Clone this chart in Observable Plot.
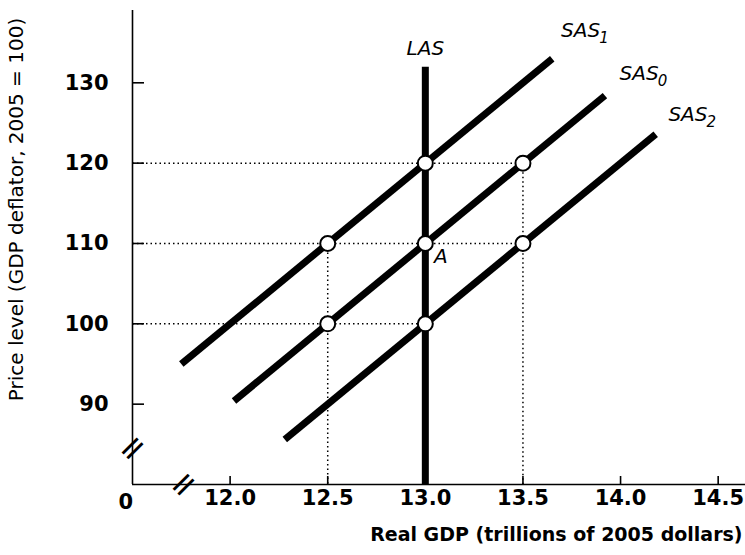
<!DOCTYPE html>
<html>
<head>
<meta charset="utf-8">
<script src="https://cdn.jsdelivr.net/npm/d3@7"></script>
<script src="https://cdn.jsdelivr.net/npm/@observablehq/plot@0.6"></script>
<style>
  html, body { margin: 0; padding: 0; background: #fff; }
  svg { display: block; }
</style>
</head>
<body>
<div id="chart"></div>
<script>
// ---- data ----
const xDomain = [11.5, 14.64];
const yDomain = [80, 139];
const xTicks = [12.0, 12.5, 13.0, 13.5, 14.0, 14.5];
const yTicks = [90, 100, 110, 120, 130];

const sas1 = [{x: 11.75, y: 95}, {x: 13.65, y: 133}];
const sas0 = [{x: 12.02, y: 90.4}, {x: 13.92, y: 128.4}];
const sas2 = [{x: 12.28, y: 85.6}, {x: 14.18, y: 123.6}];
const las = [{x: 13.0, y: 80}, {x: 13.0, y: 132}];

const points = [
  {x: 12.5, y: 110}, {x: 12.5, y: 100},
  {x: 13.0, y: 120}, {x: 13.0, y: 110}, {x: 13.0, y: 100},
  {x: 13.5, y: 120}, {x: 13.5, y: 110}
];

// dotted guide segments (from axis to equilibrium points)
const guides = [
  {x1: 11.5, y1: 120, x2: 13.5, y2: 120},
  {x1: 11.5, y1: 110, x2: 13.5, y2: 110},
  {x1: 11.5, y1: 100, x2: 13.0, y2: 100},
  {x1: 12.5, y1: 110, x2: 12.5, y2: 80},
  {x1: 13.5, y1: 120, x2: 13.5, y2: 80}
];

// curve labels: base text ends at x, subscript follows
const sasLabels = [
  {x: 13.88, y: 136.5, text: "SAS", sub: "1"},
  {x: 14.18, y: 131.2, text: "SAS", sub: "0"},
  {x: 14.43, y: 126.1, text: "SAS", sub: "2"}
];
const plainLabels = [
  {x: 13.0, y: 134.2, text: "LAS"},
  {x: 13.08, y: 108.4, text: "A"}
];

const breaks = [{x: 11.76, y: 80}, {x: 11.5, y: 84.5}];

const xTitle = "Real GDP (trillions of 2005 dollars)";
const yTitle = "Price level (GDP deflator, 2005 = 100)";

const font = "'DejaVu Sans', sans-serif";

const chart = Plot.plot({
  width: 745,
  height: 555,
  marginLeft: 132,
  marginRight: 0,
  marginTop: 10,
  marginBottom: 71,
  style: {background: "#fff", fontFamily: font, color: "#000", overflow: "visible"},
  x: {domain: xDomain},
  y: {domain: yDomain},
  marks: [
    // axis lines
    Plot.ruleX([xDomain[0]], {stroke: "#000", strokeWidth: 1.6}),
    Plot.ruleY([yDomain[0]], {stroke: "#000", strokeWidth: 1.6}),
    // inward tick marks
    Plot.axisY({ticks: yTicks, tickSize: 12, dx: 12, tickFormat: () => "", label: null, strokeWidth: 1.6}),
    Plot.axisX({ticks: xTicks, tickSize: 8, dy: -8, tickFormat: () => "", label: null, strokeWidth: 1.6}),
    // tick labels
    Plot.axisY({ticks: yTicks, tickSize: 0, tickPadding: 24, label: null, fontSize: 21, fontWeight: "bold", tickFormat: d => d3.format("d")(d)}),
    Plot.axisX({ticks: xTicks, tickSize: 0, tickPadding: 6, label: null, fontSize: 21, fontWeight: "bold", tickFormat: d => d3.format(".1f")(d)}),
    // origin label
    Plot.text(["0"], {frameAnchor: "bottom-left", dx: -14, dy: 24, fontSize: 21, fontWeight: "bold"}),
    // axis breaks
    Plot.text(breaks, {x: "x", y: "y", text: () => "=", rotate: -45, fontSize: 34, fontWeight: 400, fill: "#000"}),
    // dotted guides
    Plot.link(guides, {x1: "x1", y1: "y1", x2: "x2", y2: "y2", stroke: "#000", strokeWidth: 1.5, strokeDasharray: "1.5,3"}),
    // curves
    Plot.line(las, {x: "x", y: "y", stroke: "#000", strokeWidth: 7, strokeLinecap: "butt"}),
    Plot.line(sas1, {x: "x", y: "y", stroke: "#000", strokeWidth: 7, strokeLinecap: "butt"}),
    Plot.line(sas0, {x: "x", y: "y", stroke: "#000", strokeWidth: 7, strokeLinecap: "butt"}),
    Plot.line(sas2, {x: "x", y: "y", stroke: "#000", strokeWidth: 7, strokeLinecap: "butt"}),
    // equilibrium points
    Plot.dot(points, {x: "x", y: "y", r: 7.5, fill: "#fff", stroke: "#000", strokeWidth: 2}),
    // curve labels
    Plot.text(sasLabels, {x: "x", y: "y", text: "text", textAnchor: "end", dx: 3, fontSize: 20, fontStyle: "italic", fill: "#000", style: "letter-spacing:3px"}),
    Plot.text(sasLabels, {x: "x", y: "y", text: "sub", textAnchor: "start", dx: 2, dy: 8, fontSize: 15, fontStyle: "italic", fill: "#000"}),
    Plot.text(plainLabels, {x: "x", y: "y", text: "text", fontSize: 20, fontStyle: "italic", fill: "#000", style: "letter-spacing:1px"}),
    // axis titles
    Plot.text([xTitle], {frameAnchor: "bottom-right", textAnchor: "end", dx: -3, dy: 56, fontSize: 19, fontWeight: "bold", style: "letter-spacing:0.5px"}),
    Plot.text([yTitle], {frameAnchor: "left", textAnchor: "middle", rotate: -90, dx: -116, dy: -38, fontSize: 20, fontWeight: "normal"})
  ]
});
document.getElementById("chart").appendChild(chart);
</script>
</body>
</html>
